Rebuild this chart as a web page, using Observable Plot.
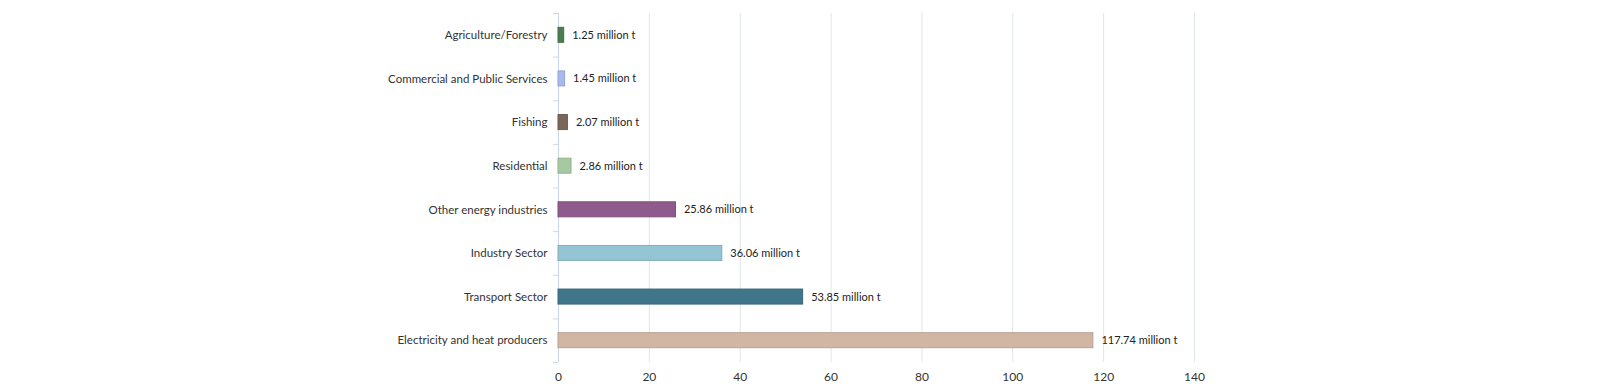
<!DOCTYPE html>
<html>
<head>
<meta charset="utf-8">
<script src="https://cdn.jsdelivr.net/npm/d3@7"></script>
<script src="https://cdn.jsdelivr.net/npm/@observablehq/plot@0.6"></script>
<style>
  html, body { margin: 0; padding: 0; background: #fff; }
  #chart svg { display: block; }
</style>
</head>
<body>
<div id="chart"></div>
<script>
const categories = [
  "Agriculture/Forestry",
  "Commercial and Public Services",
  "Fishing",
  "Residential",
  "Other energy industries",
  "Industry Sector",
  "Transport Sector",
  "Electricity and heat producers"
];
const values = [1.25, 1.45, 2.07, 2.86, 25.86, 36.06, 53.85, 117.74];
const colors = ["#4c7d4e", "#a8b9ef", "#7b675a", "#a6c9a1", "#8f5a8c", "#94c5d5", "#3f7689", "#d2b6a4"];
const xTicks = [0, 20, 40, 60, 80, 100, 120, 140];
const unit = "million t";

const data = categories.map((c, i) => ({category: c, value: values[i], color: colors[i]}));

const W = 1600, H = 392;
const mt = 13, mb = 30, ml = 558, mr = 406;
const step = (H - mt - mb) / categories.length;
const font = "Lato, 'Noto Sans', sans-serif";

const chart = Plot.plot({
  width: W,
  height: H,
  marginTop: mt,
  marginBottom: mb,
  marginLeft: ml,
  marginRight: mr,
  style: {fontFamily: font, fontSize: "12px", color: "#333", background: "#fff"},
  x: {domain: [0, 140], ticks: xTicks, label: null},
  y: {domain: categories, paddingInner: 0.656, paddingOuter: 0.328, round: false, label: null},
  marks: [
    Plot.gridX(xTicks.filter(d => d > 0), {stroke: "#dde5ec", strokeOpacity: 1}),
    Plot.ruleX([0], {stroke: "#ccd6eb", strokeOpacity: 1}),
    Plot.ruleY(categories, {y: d => d, x1: -1.1, x2: 0, dy: -step / 2, stroke: "#ccd6eb", clip: false}),
    Plot.ruleY(categories.slice(-1), {y: d => d, x1: -1.1, x2: 0, dy: step / 2, stroke: "#ccd6eb", clip: false}),
    Plot.barX(data, {
      x: "value",
      y: "category",
      fill: d => d.color,
      stroke: d => d3.color(d.color).darker(0.35).formatHex(),
      strokeWidth: 1
    }),
    Plot.text(data, {
      x: "value",
      y: "category",
      text: d => `${d.value.toFixed(2)} ${unit}`,
      textAnchor: "start",
      dx: 8,
      fill: "#222",
      fontSize: 11
    }),
    Plot.axisY({tickSize: 0, tickPadding: 11, fontSize: 11.5, fill: "#333"}),
    Plot.axisX({ticks: xTicks, tickSize: 0, tickPadding: 10, fontSize: 12, fill: "#333", tickFormat: d => d})
  ]
});

document.getElementById("chart").appendChild(chart);
</script>
</body>
</html>
